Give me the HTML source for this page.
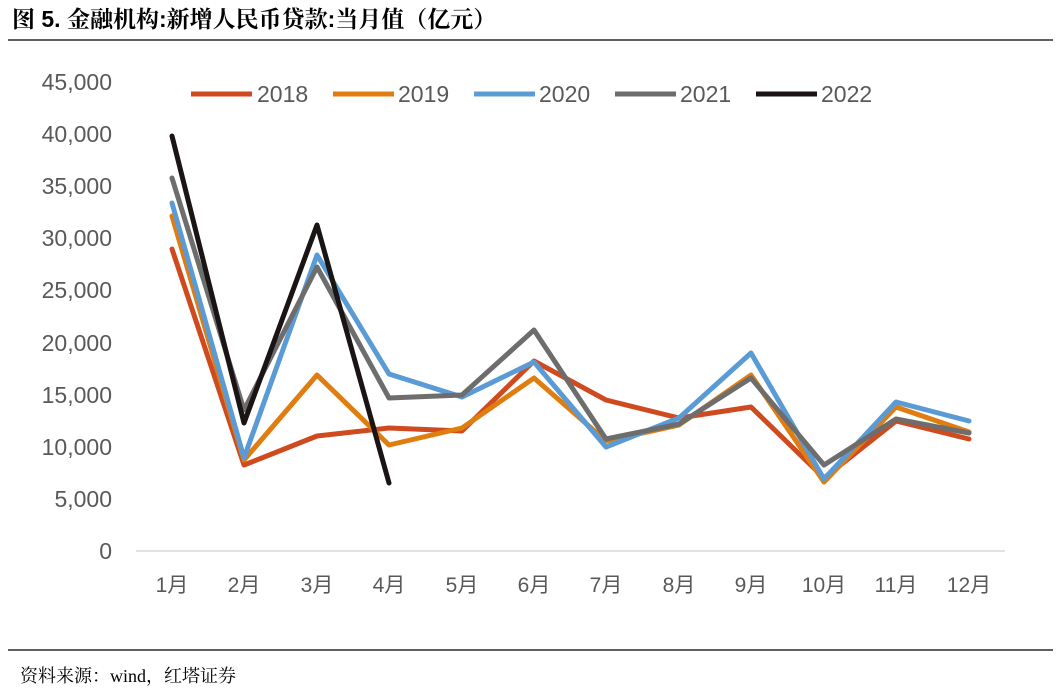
<!DOCTYPE html>
<html><head><meta charset="utf-8"><style>
body{margin:0;background:#fff;width:1061px;height:693px;overflow:hidden;font-family:"Liberation Sans","Noto Sans CJK SC",sans-serif}
</style></head><body>
<svg width="1061" height="693" xmlns="http://www.w3.org/2000/svg" font-family="Liberation Sans, Noto Sans CJK SC, sans-serif">
<text x="12" y="27" font-size="23" font-weight="bold" fill="#000" font-family="Liberation Sans, Noto Serif CJK SC, serif">图 5. 金融机构:新增人民币贷款:当月值（亿元）</text>
<line x1="8" y1="40" x2="1053" y2="40" stroke="#000" stroke-width="1.2"/>
<line x1="8" y1="650" x2="1053" y2="650" stroke="#000" stroke-width="1.2"/>
<text x="20" y="682" font-size="18" fill="#000" font-family="Liberation Serif, Noto Serif CJK SC, serif">资料来源：wind，红塔证券</text>
<g font-size="23" fill="#595959" text-anchor="end">
<text x="112" y="559">0</text><text x="112" y="507">5,000</text><text x="112" y="455">10,000</text><text x="112" y="403">15,000</text><text x="112" y="351">20,000</text><text x="112" y="298">25,000</text><text x="112" y="246">30,000</text><text x="112" y="194">35,000</text><text x="112" y="142">40,000</text><text x="112" y="90">45,000</text>
</g>
<line x1="136" y1="551" x2="1005" y2="551" stroke="#d9d9d9" stroke-width="1.5"/>
<g font-size="21" fill="#595959" text-anchor="middle">
<text x="172" y="592">1月</text><text x="244" y="592">2月</text><text x="317" y="592">3月</text><text x="389" y="592">4月</text><text x="462" y="592">5月</text><text x="534" y="592">6月</text><text x="606" y="592">7月</text><text x="679" y="592">8月</text><text x="751" y="592">9月</text><text x="824" y="592">10月</text><text x="896" y="592">11月</text><text x="969" y="592">12月</text>
</g>
<g fill="none" stroke-width="5" stroke-linejoin="round" stroke-linecap="round">
<polyline stroke="#d04a20" points="172,249 244,465 317,436 389,428 462,431 534,361 606,400 679,418 751,407 824,478 896,421 969,439"/>
<polyline stroke="#e07d10" points="172,216 244,460 317,375 389,445 462,428 534,378 606,441 679,425 751,375 824,482 896,407 969,432"/>
<polyline stroke="#5b9bd5" points="172,203 244,458 317,255 389,374 462,397 534,362 606,447 679,418 751,353 824,479 896,402 969,421"/>
<polyline stroke="#6d6d6d" points="172,178 244,410 317,267 389,398 462,395 534,330 606,439 679,424 751,378 824,465 896,419 969,433"/>
<polyline stroke="#1a1414" points="172,136 244,423 317,225 389,483"/>
</g>
<g stroke-width="5">
<line x1="191" y1="94" x2="252" y2="94" stroke="#d04a20"/>
<line x1="333" y1="94" x2="394" y2="94" stroke="#e07d10"/>
<line x1="474" y1="94" x2="535" y2="94" stroke="#5b9bd5"/>
<line x1="615" y1="94" x2="676" y2="94" stroke="#6d6d6d"/>
<line x1="756" y1="94" x2="817" y2="94" stroke="#1a1414"/>
</g>
<g font-size="23" fill="#595959">
<text x="257" y="102">2018</text><text x="398" y="102">2019</text><text x="539" y="102">2020</text><text x="680" y="102">2021</text><text x="821" y="102">2022</text>
</g>
</svg>
</body></html>
